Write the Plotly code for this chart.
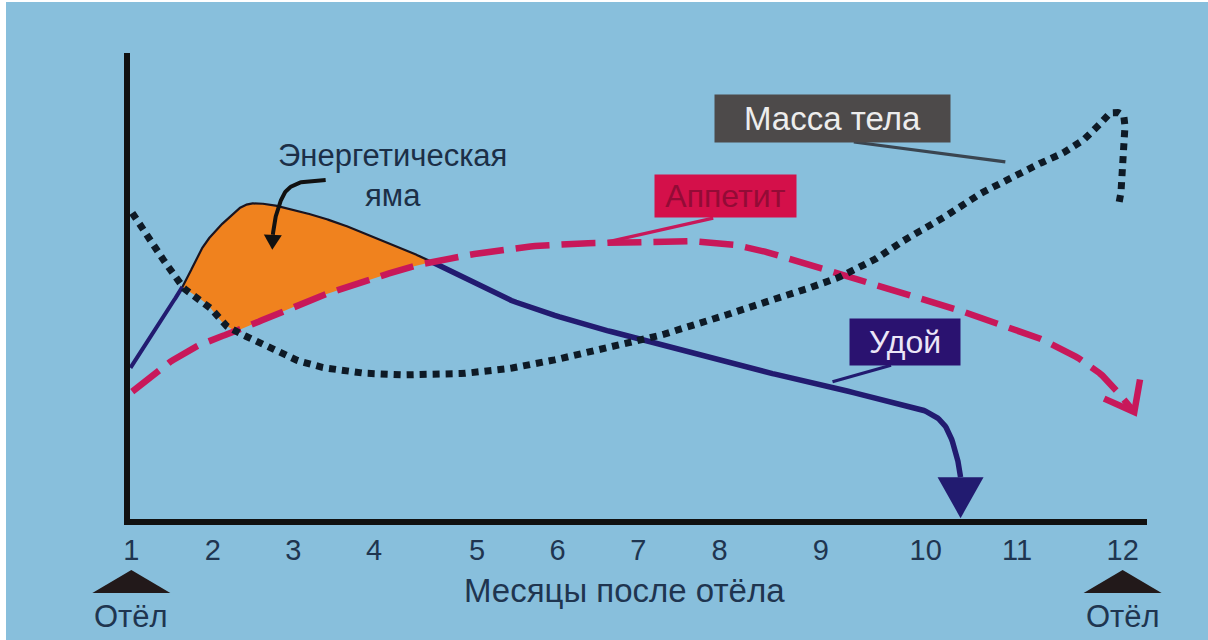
import numpy as np
import plotly.graph_objects as go

# ---------------- data ----------------
month_labels = ["1", "2", "3", "4", "5", "6", "7", "8", "9", "10", "11", "12"]
month_tick_pos = [1.01, 1.92, 2.82, 3.72, 4.87, 5.77, 6.67, 7.58, 8.71, 9.88, 10.90, 12.08]

# Удой (milk yield)
milk_x = [1.00, 1.30, 1.58, 1.84, 2.11, 2.28, 2.47, 3.03, 3.59, 4.15, 4.48, 5.15, 5.90,
          6.64, 7.39, 8.14, 8.50, 9.40, 9.84, 10.07, 10.21, 10.27]
milk_y = [32.7, 41.9, 50.1, 59.6, 65.2, 67.7, 68.0, 65.6, 61.9, 57.4, 54.4, 48.0, 43.0,
          39.1, 35.1, 31.6, 30.1, 25.8, 23.7, 20.9, 15.1, 9.2]

# Аппетит (appetite)
appetite_x = [1.02, 1.36, 1.77, 2.22, 2.66, 3.22, 3.78, 4.12, 4.79, 5.52, 6.27, 7.02, 7.39,
              7.76, 8.14, 8.50, 9.03, 9.77, 10.51, 11.26, 11.82, 12.21]
appetite_y = [27.6, 32.9, 37.6, 40.9, 44.5, 48.8, 52.3, 54.4, 57.0, 58.9, 59.6, 60.0, 59.8,
              59.1, 57.4, 55.3, 52.3, 48.0, 43.4, 38.1, 31.6, 23.2]

# Масса тела (body mass)
body_x = [1.02, 1.21, 1.39, 1.58, 1.84, 2.06, 2.33, 2.66, 3.03, 3.59, 4.07, 4.79, 5.34, 5.90,
          6.64, 7.39, 8.14, 8.84, 9.40, 9.70, 9.99, 10.37, 10.74, 11.11, 11.30, 11.60, 11.82,
          11.94, 12.08, 12.10, 12.08, 12.06, 12.04]
body_y = [66.0, 60.2, 55.3, 50.1, 46.7, 41.9, 39.1, 35.9, 33.3, 31.6, 31.2, 31.6, 32.9, 35.1,
          38.3, 42.4, 47.3, 51.6, 57.0, 60.9, 63.9, 68.8, 72.7, 76.3, 77.8, 81.1, 84.9,
          87.5, 87.1, 81.7, 75.9, 70.3, 68.2]

# curved pointer to the "energy pit"
pit_arrow_x = [3.18, 2.92, 2.75, 2.66, 2.61, 2.59]
pit_arrow_y = [73.1, 72.7, 71.0, 67.7, 64.1, 61.3]

# label texts and anchor points (data units)
pit_text = "Энергетическая<br>яма"
pit_text_pos = (3.93, 74.0)
series_labels = ["Масса тела", "Аппетит", "Удой"]
label_pos = [(8.84, 86.3), (7.64, 69.7), (9.65, 38.3)]
pointer_tip = [(10.77, 77.0), (6.33, 59.8), (8.84, 29.7)]
axis_title = "Месяцы после отёла"
axis_title_x = 6.52
calving_label = "Отёл"

# ---------------- layout / style ----------------
BG = "#88BFDC"
FIG_W, FIG_H = 1202, 638
M_L, M_R, M_T, M_B = 124, 61, 51, 121
X_RANGE = [0.995, 12.352]
Y_RANGE = [0.2, 100.4]
PLOT_W = FIG_W - M_L - M_R
PLOT_H = FIG_H - M_T - M_B
PX_X = PLOT_W / (X_RANGE[1] - X_RANGE[0])
PX_Y = PLOT_H / (Y_RANGE[1] - Y_RANGE[0])

MILK_C = "#221B70"
APP_C = "#C8185A"
BODY_C = "#0E1A26"
ORANGE = "#F0821E"
TXT_C = "#1F3550"
FONT = "Liberation Sans, Arial, sans-serif"


def smooth(xs, ys, n=14):
    """Centripetal Catmull-Rom rendering of a polyline (in screen space)."""
    P = np.column_stack([np.asarray(xs, float) * PX_X, np.asarray(ys, float) * PX_Y])
    P = np.vstack([2 * P[0] - P[1], P, 2 * P[-1] - P[-2]])
    out = []
    for i in range(1, len(P) - 2):
        p0, p1, p2, p3 = P[i - 1], P[i], P[i + 1], P[i + 2]
        t0 = 0.0
        t1 = t0 + np.linalg.norm(p1 - p0) ** 0.5
        t2 = t1 + np.linalg.norm(p2 - p1) ** 0.5
        t3 = t2 + np.linalg.norm(p3 - p2) ** 0.5
        t = np.linspace(t1, t2, n, endpoint=False)[:, None]
        a1 = (t1 - t) / (t1 - t0) * p0 + (t - t0) / (t1 - t0) * p1
        a2 = (t2 - t) / (t2 - t1) * p1 + (t - t1) / (t2 - t1) * p2
        a3 = (t3 - t) / (t3 - t2) * p2 + (t - t2) / (t3 - t2) * p3
        b1 = (t2 - t) / (t2 - t0) * a1 + (t - t0) / (t2 - t0) * a2
        b2 = (t3 - t) / (t3 - t1) * a2 + (t - t1) / (t3 - t1) * a3
        c = (t2 - t) / (t2 - t1) * b1 + (t - t1) / (t2 - t1) * b2
        out.append(c)
    out.append(P[-2][None, :])
    Q = np.vstack(out)
    return Q[:, 0] / PX_X, Q[:, 1] / PX_Y


def head_polygon(xe, ye, ang_deg, length_px, width_px):
    a = np.deg2rad(ang_deg)
    dx, dy = np.cos(a), np.sin(a)          # screen direction (y down)
    nx, ny = -dy, dx
    hw = width_px / 2
    pts = [(-nx * hw, -ny * hw), (dx * length_px, dy * length_px), (nx * hw, ny * hw)]
    xs = [xe + p[0] / PX_X for p in pts]
    ys = [ye - p[1] / PX_Y for p in pts]
    return xs + [xs[0]], ys + [ys[0]]


def chevron(xt, yt, ang_deg, half_deg, arm_px):
    a = np.deg2rad(ang_deg + 180)
    out_x, out_y = [], []
    for s in (+1, -1):
        b = a + s * np.deg2rad(half_deg)
        out_x.append(xt + np.cos(b) * arm_px / PX_X)
        out_y.append(yt - np.sin(b) * arm_px / PX_Y)
    return [out_x[0], xt, out_x[1]], [out_y[0], yt, out_y[1]]


mx, my = smooth(milk_x, milk_y)
ax_, ay_ = smooth(appetite_x, appetite_y)
bx, by = smooth(body_x, body_y)
bm = bx <= 6

grid = np.linspace(1.0, 5.0, 1601)
upper = np.interp(grid, mx, my)
lower = np.maximum(np.interp(grid, bx[bm], by[bm]), np.interp(grid, ax_, ay_))
idx = np.where(upper > lower)[0]
idx = np.arange(idx[0], idx[-1] + 1)
xs0, xs1 = grid[idx[0]], grid[idx[-1]]

fig = go.Figure()

# energy pit fill
fig.add_trace(go.Scatter(
    x=np.concatenate([grid[idx], grid[idx][::-1]]),
    y=np.concatenate([upper[idx], lower[idx][::-1]]),
    fill="toself", fillcolor=ORANGE, line=dict(width=0), mode="lines",
    hoverinfo="skip"))

# milk line, split around the pit
segA = mx < xs0
fig.add_trace(go.Scatter(x=list(mx[segA]) + [xs0], y=list(my[segA]) + [upper[idx[0]]],
                         mode="lines", line=dict(color=MILK_C, width=4), hoverinfo="skip"))
segC = mx > xs1
fig.add_trace(go.Scatter(x=[xs1] + list(mx[segC]), y=[upper[idx[-1]]] + list(my[segC]),
                         mode="lines", line=dict(color=MILK_C, width=5.5), hoverinfo="skip"))
fig.add_trace(go.Scatter(x=grid[idx], y=upper[idx], mode="lines",
                         line=dict(color="#1A1420", width=2.2), hoverinfo="skip"))
hx, hy = head_polygon(milk_x[-1], milk_y[-1], 90, 41, 46)
fig.add_trace(go.Scatter(x=hx, y=hy, fill="toself", fillcolor=MILK_C, mode="lines",
                         line=dict(width=0, color=MILK_C), hoverinfo="skip"))

# appetite dashed line
fig.add_trace(go.Scatter(x=ax_, y=ay_, mode="lines",
                         line=dict(color=APP_C, width=6.5, dash="34px,12px"),
                         hoverinfo="skip"))
cx, cy = chevron(appetite_x[-1], appetite_y[-1], 62, 38, 33)
fig.add_trace(go.Scatter(x=cx, y=cy, mode="lines", line=dict(color=APP_C, width=6.5),
                         hoverinfo="skip"))

# body mass dotted line
fig.add_trace(go.Scatter(x=bx, y=by, mode="lines",
                         line=dict(color=BODY_C, width=7, dash="7px,6px"),
                         hoverinfo="skip"))

# energy pit curved arrow
pax, pay = smooth(pit_arrow_x, pit_arrow_y)
fig.add_trace(go.Scatter(x=pax, y=pay, mode="lines",
                         line=dict(color="#111111", width=4), hoverinfo="skip"))
px_, py_ = head_polygon(pit_arrow_x[-1], pit_arrow_y[-1], 92, 15, 18)
fig.add_trace(go.Scatter(x=px_, y=py_, fill="toself", fillcolor="#111111", mode="lines",
                         line=dict(width=0, color="#111111"), hoverinfo="skip"))

annotations = []
# energy pit text
annotations.append(dict(x=pit_text_pos[0], y=pit_text_pos[1], text=pit_text, showarrow=False,
                        font=dict(family=FONT, size=31, color="#1C2F47"), align="center"))

label_style = [
    dict(bg="#4D4A4A", fc="#EDEDED", w=235, h=47, size=33, pc="#3A4550", ax=-153, ay=-20),
    dict(bg="#D4104A", fc="#930B36", w=141, h=42, size=32, pc=APP_C, ax=107, ay=-24),
    dict(bg="#2A1270", fc="#ECE6F7", w=110, h=46, size=32, pc=MILK_C, ax=60, ay=-17),
]
for text, pos, tip, st in zip(series_labels, label_pos, pointer_tip, label_style):
    annotations.append(dict(x=tip[0], y=tip[1], text="", showarrow=True, arrowhead=0,
                            arrowwidth=3.2, arrowcolor=st["pc"], ax=st["ax"], ay=st["ay"],
                            standoff=0, startstandoff=0))
    annotations.append(dict(x=pos[0], y=pos[1], text=text, showarrow=False,
                            bgcolor=st["bg"], width=st["w"], height=st["h"], borderpad=0,
                            font=dict(family=FONT, size=st["size"], color=st["fc"]),
                            align="center", valign="middle"))

# axis title and calving marks
annotations.append(dict(x=axis_title_x, xref="x", y=-0.1545, yref="paper", text=axis_title,
                        showarrow=False, yanchor="middle", xanchor="center",
                        font=dict(family=FONT, size=33, color=TXT_C)))
shapes = []
for tpos in (month_tick_pos[0], month_tick_pos[-1]):
    pxc = (tpos - X_RANGE[0]) / (X_RANGE[1] - X_RANGE[0])
    annotations.append(dict(x=pxc, xref="paper", y=-0.2103, yref="paper", text=calving_label,
                            showarrow=False, yanchor="middle", xanchor="center",
                            font=dict(family=FONT, size=31, color=TXT_C)))
    hw = 39 / PLOT_W
    shapes.append(dict(type="path", xref="paper", yref="paper",
                       path=f"M{pxc - hw},-0.1588 L{pxc},-0.1094 L{pxc + hw},-0.1588 Z",
                       fillcolor="#22191A", line=dict(width=0)))

fig.update_layout(
    width=FIG_W, height=FIG_H,
    margin=dict(l=M_L, r=M_R, t=M_T, b=M_B, pad=0),
    paper_bgcolor=BG, plot_bgcolor=BG,
    showlegend=False, hovermode=False,
    annotations=annotations, shapes=shapes,
    xaxis=dict(range=X_RANGE, showgrid=False, zeroline=False, showline=True,
               linecolor="#111111", linewidth=6,
               tickmode="array", tickvals=month_tick_pos, ticktext=month_labels,
               ticks="outside", ticklen=0, tickcolor="rgba(0,0,0,0)",
               tickfont=dict(family=FONT, size=29, color=TXT_C), fixedrange=True),
    yaxis=dict(range=Y_RANGE, showgrid=False, zeroline=False, showline=True,
               linecolor="#111111", linewidth=6, showticklabels=False, ticks="",
               fixedrange=True),
)

fig.write_html("out.html", config={"displayModeBar": False, "staticPlot": True},
               post_script="document.body.style.margin='2px 0 0 6px';"
                           "document.body.style.overflow='hidden';"
                           "document.body.style.background='#ffffff';")
